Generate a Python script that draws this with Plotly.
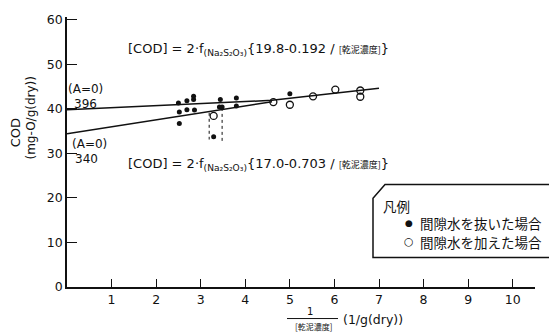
import plotly.graph_objects as go

# ---- data ----
filled_x = [2.50, 2.69, 2.84, 2.84, 2.52, 2.69, 2.86, 2.52, 3.44, 3.42, 3.48, 3.29, 3.80, 3.80, 5.00]
filled_y = [41.3, 41.8, 42.8, 42.1, 39.3, 39.8, 39.7, 36.7, 42.1, 40.4, 40.4, 33.7, 42.4, 40.6, 43.4]

open_x = [3.29, 4.63, 5.00, 5.52, 6.02, 6.58, 6.58]
open_y = [38.4, 41.5, 40.9, 42.8, 44.3, 44.1, 42.7]

upper_x = [0.0, 4.6, 7.0]
upper_y = [39.8, 41.9, 44.6]
lower_x = [0.0, 4.6]
lower_y = [34.4, 41.6]

bracket1_x = [3.19, 3.19]
bracket1_y = [39.1, 33.1]
bracket2_x = [3.48, 3.48]
bracket2_y = [40.2, 32.5]

x_ticks = [1, 2, 3, 4, 5, 6, 7, 8, 9, 10]
y_ticks = [0, 10, 20, 30, 40, 50, 60]

# ---- geometry helpers (pixel -> paper) ----
W, H = 549, 335
ML, MR, MT, MB = 67, 14, 13, 48
PW, PH = W - ML - MR, H - MT - MB


def px(x):
    return (x - ML) / PW


def py(y):
    return (H - MB - y) / PH


FONT = "DejaVu Sans"
CJK = "Noto Sans CJK JP"
BLACK = "#111111"

fig = go.Figure()
fig.add_trace(go.Scatter(x=upper_x, y=upper_y, mode="lines",
                         line=dict(color=BLACK, width=1.5), showlegend=False))
fig.add_trace(go.Scatter(x=lower_x, y=lower_y, mode="lines",
                         line=dict(color=BLACK, width=1.5), showlegend=False))
fig.add_trace(go.Scatter(x=bracket1_x, y=bracket1_y, mode="lines",
                         line=dict(color=BLACK, width=1, dash="dot"), showlegend=False))
fig.add_trace(go.Scatter(x=bracket2_x, y=bracket2_y, mode="lines",
                         line=dict(color=BLACK, width=1, dash="dot"), showlegend=False))
fig.add_trace(go.Scatter(x=open_x, y=open_y, mode="markers",
                         marker=dict(symbol="circle-open", size=7, color=BLACK,
                                     line=dict(width=1.3, color=BLACK)),
                         showlegend=False))
fig.add_trace(go.Scatter(x=filled_x, y=filled_y, mode="markers",
                         marker=dict(symbol="circle", size=5, color=BLACK),
                         showlegend=False))

ann = []


def text(x, y, s, size=12, anchor="left", font=FONT, angle=0):
    ann.append(dict(x=px(x), y=py(y), xref="paper", yref="paper", text=s,
                    showarrow=False, xanchor=anchor, yanchor="middle",
                    textangle=angle, font=dict(family=font, size=size, color=BLACK)))


small = "<span style='font-size:9px;font-family:Noto Sans CJK JP'>[乾泥濃度]</span>"
text(126, 46, "[COD] = 2·f<sub>(Na₂S₂O₃)</sub>{19.8-0.192 / " + small + "}", 13)
text(126, 163, "[COD] = 2·f<sub>(Na₂S₂O₃)</sub>{17.0-0.703 / " + small + "}", 13)
text(66, 86, "(A=0)", 12)
text(72, 101, "396", 12)
text(70, 142, "(A=0)", 12)
text(73, 157, "340", 12)

# y axis title
text(15, 131, "COD", 13, anchor="center", angle=-90)
text(31, 116, "(mg-O/g(dry))", 12, anchor="center", angle=-90)

# x axis title (fraction)
text(310, 312, "1", 10, anchor="center")
text(313, 327, "[乾泥濃度]", 8, anchor="center", font=CJK)
text(341, 320, "(1/g(dry))", 12.5)

# legend texts
text(381, 205, "凡例", 13.5, font=CJK)
text(409, 222, "●", 9, anchor="center")
text(409, 241, "○", 11, anchor="center")
text(418, 222, "間隙水を抜いた場合", 13.5, font=CJK)
text(418, 241, "間隙水を加えた場合", 13.5, font=CJK)

shapes = [
    dict(type="line", xref="paper", yref="paper", x0=px(287), x1=px(338),
         y0=py(319), y1=py(319), line=dict(color=BLACK, width=1)),
    dict(type="path", xref="paper", yref="paper",
         path=(f"M {px(549)},{py(183)} L {px(385)},{py(183)} L {px(373)},{py(197)} "
               f"L {px(373)},{py(257)} L {px(549)},{py(257)}"),
         line=dict(color=BLACK, width=1.5)),
]

fig.update_layout(
    width=W, height=H,
    margin=dict(l=ML, r=MR, t=MT, b=MB),
    paper_bgcolor="white", plot_bgcolor="white",
    font=dict(family=FONT, size=12, color=BLACK),
    annotations=ann, shapes=shapes,
    xaxis=dict(range=[0, 10.5], tickvals=x_ticks, ticktext=[str(v) for v in x_ticks],
               showgrid=False, zeroline=False, showline=True, linecolor=BLACK, linewidth=1.5,
               ticks="inside", ticklen=8, tickcolor=BLACK, tickwidth=1,
               tickfont=dict(size=12.5, family=FONT, color=BLACK)),
    yaxis=dict(range=[0, 60.6], tickvals=y_ticks, ticktext=[str(v) for v in y_ticks],
               showgrid=False, zeroline=False, showline=True, linecolor=BLACK, linewidth=1.5,
               ticks="inside", ticklen=10, tickcolor=BLACK, tickwidth=1,
               tickfont=dict(size=12.5, family=FONT, color=BLACK)),
    showlegend=False,
)

fig.write_html("out.html")
